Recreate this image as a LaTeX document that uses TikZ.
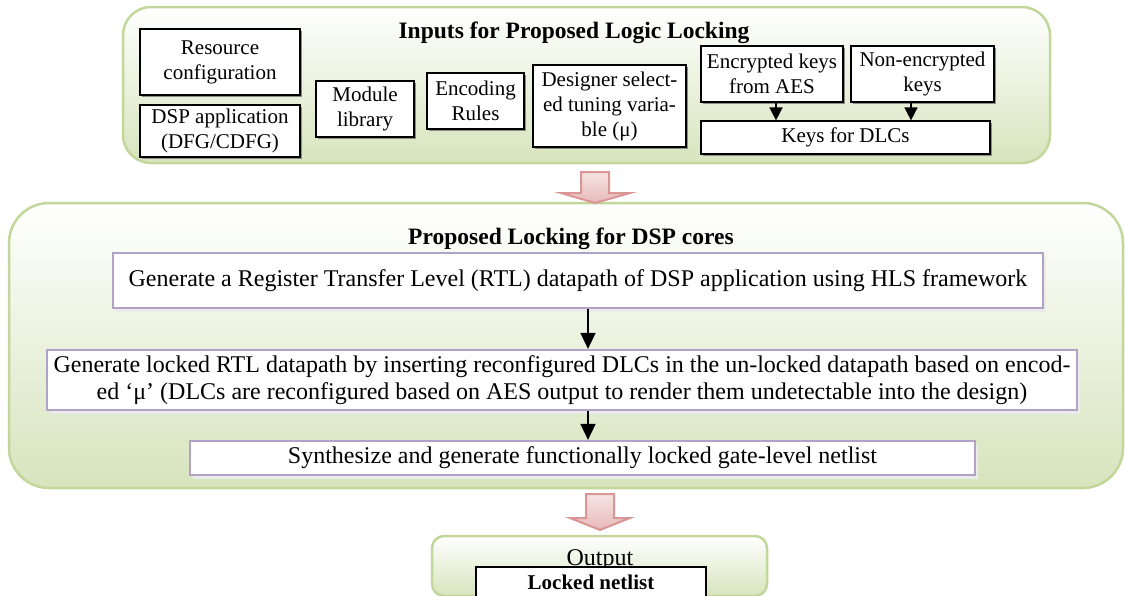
\documentclass[tikz,border=0pt]{standalone}
\usepackage{fontspec}
\setmainfont{Liberation Serif}
\usetikzlibrary{arrows.meta,shadows,calc}
\definecolor{gborder}{HTML}{C3D69B}
\definecolor{gfill}{HTML}{D7E4BD}
\definecolor{lav}{HTML}{B3A2C7}
\definecolor{pinkb}{HTML}{D99694}
\definecolor{pinkl}{HTML}{F6E4E3}
\definecolor{pinkd}{HTML}{E6B9B8}
\tikzset{
  container/.style={draw=gborder, line width=2.5pt, top color=white, bottom color=gfill},
  inbox/.style={draw=black, line width=1.2pt, fill=white, align=center, inner sep=0pt,
    font=\fontsize{21}{25}\selectfont,
    drop shadow={shadow xshift=1.5pt, shadow yshift=-1.5pt, fill=black!45, opacity=1}},
  midbox/.style={draw=lav, line width=2.2pt, fill=white, align=center, inner sep=0pt,
    font=\fontsize{24}{27}\selectfont,
    drop shadow={shadow xshift=3pt, shadow yshift=-4pt, fill=black!8, opacity=1}},
  titletext/.style={font=\fontsize{23.5}{27}\selectfont\bfseries, anchor=base, inner sep=0pt},
  arr/.style={line width=1.5pt, -{Triangle[width=13pt,length=13pt]}},
  bigarr/.style={line width=1.6pt, -{Triangle[width=15pt,length=16pt]}},
  blockarrow/.style={draw=pinkb, line width=2pt, top color=pinkl, bottom color=pinkd}
}
\begin{document}
\begin{tikzpicture}[x=1pt,y=-1pt]
\useasboundingbox (0,0) rectangle (1125,595);

% containers
\node[container, rounded corners=28pt, minimum width=927pt, minimum height=156pt] (topc) at (586.5,85) {};
\node[container, rounded corners=40pt, minimum width=1114pt, minimum height=285pt] (midc) at (566,345.5) {};
\node[container, rounded corners=12pt, minimum width=335pt, minimum height=60pt] (outc) at (599.5,566) {};

% titles
\node[titletext] (t1) at (574,38) {Inputs for Proposed Logic Locking};
\node[titletext] (t2) at (571,244) {Proposed Locking for DSP cores};

% input boxes
\node[inbox, minimum width=160pt, minimum height=66pt] (res) at (220,62) {Resource\\configuration};
\node[inbox, minimum width=160pt, minimum height=52pt] (dsp) at (220,131) {DSP application\\(DFG/CDFG)};
\node[inbox, minimum width=98pt, minimum height=56pt] (mod) at (365,109) {Module\\library};
\node[inbox, minimum width=97pt, minimum height=56pt] (enc) at (475.5,101) {Encoding\\Rules};
\node[inbox, minimum width=153pt, minimum height=82pt] (des) at (609.5,106) {Designer select-\\ed tuning varia-\\ble (μ)};
\node[inbox, minimum width=142pt, minimum height=56pt] (aes) at (772,74) {Encrypted keys\\from AES};
\node[inbox, minimum width=143pt, minimum height=56pt] (non) at (922.5,74) {Non-encrypted\\keys};
\node[inbox, minimum width=289pt, minimum height=33pt] (keys) at (845.5,137.5) {Keys for DLCs};

\coordinate (kx1) at (776,0);
\coordinate (kx2) at (911,0);
\draw[arr] (aes.south -| kx1) -- (keys.north -| kx1);
\draw[arr] (non.south -| kx2) -- (keys.north -| kx2);

% block arrow 1
\draw[blockarrow] (581,172) -- (609,172) -- (609,193) -- (630,193) -- (595,203) -- (561,193) -- (581,193) -- cycle;

% locking steps
\node[midbox, minimum width=930pt, minimum height=55pt] (b1) at (578,280.5) {Generate a Register Transfer Level (RTL) datapath of DSP application using HLS framework};
\node[midbox, minimum width=1030pt, minimum height=60pt] (b2) at (562,380) {Generate locked RTL datapath by inserting reconfigured DLCs in the un-locked datapath based on encod-\\ed ‘μ’ (DLCs are reconfigured based on AES output to render them undetectable into the design)};
\node[midbox, minimum width=785pt, minimum height=34pt] (b3) at (582.5,458) {Synthesize and generate functionally locked gate-level netlist};

\coordinate (ax) at (588,0);
\draw[bigarr] (b1.south -| ax) -- (b2.north -| ax);
\draw[bigarr] (b2.south -| ax) -- (b3.north -| ax);

% block arrow 2
\draw[blockarrow] (586,494) -- (614,494) -- (614,518) -- (630,518) -- (600,530) -- (570,518) -- (586,518) -- cycle;

% output
\node[font=\fontsize{24}{28}\selectfont, anchor=base, inner sep=0pt] (outt) at (600,565) {Output};
\node[draw=black, line width=1.2pt, fill=white, minimum width=230pt, minimum height=30pt, inner sep=0pt, font=\fontsize{21}{25}\selectfont\bfseries] (lock) at (591,582) {Locked netlist};
\end{tikzpicture}
\end{document}
